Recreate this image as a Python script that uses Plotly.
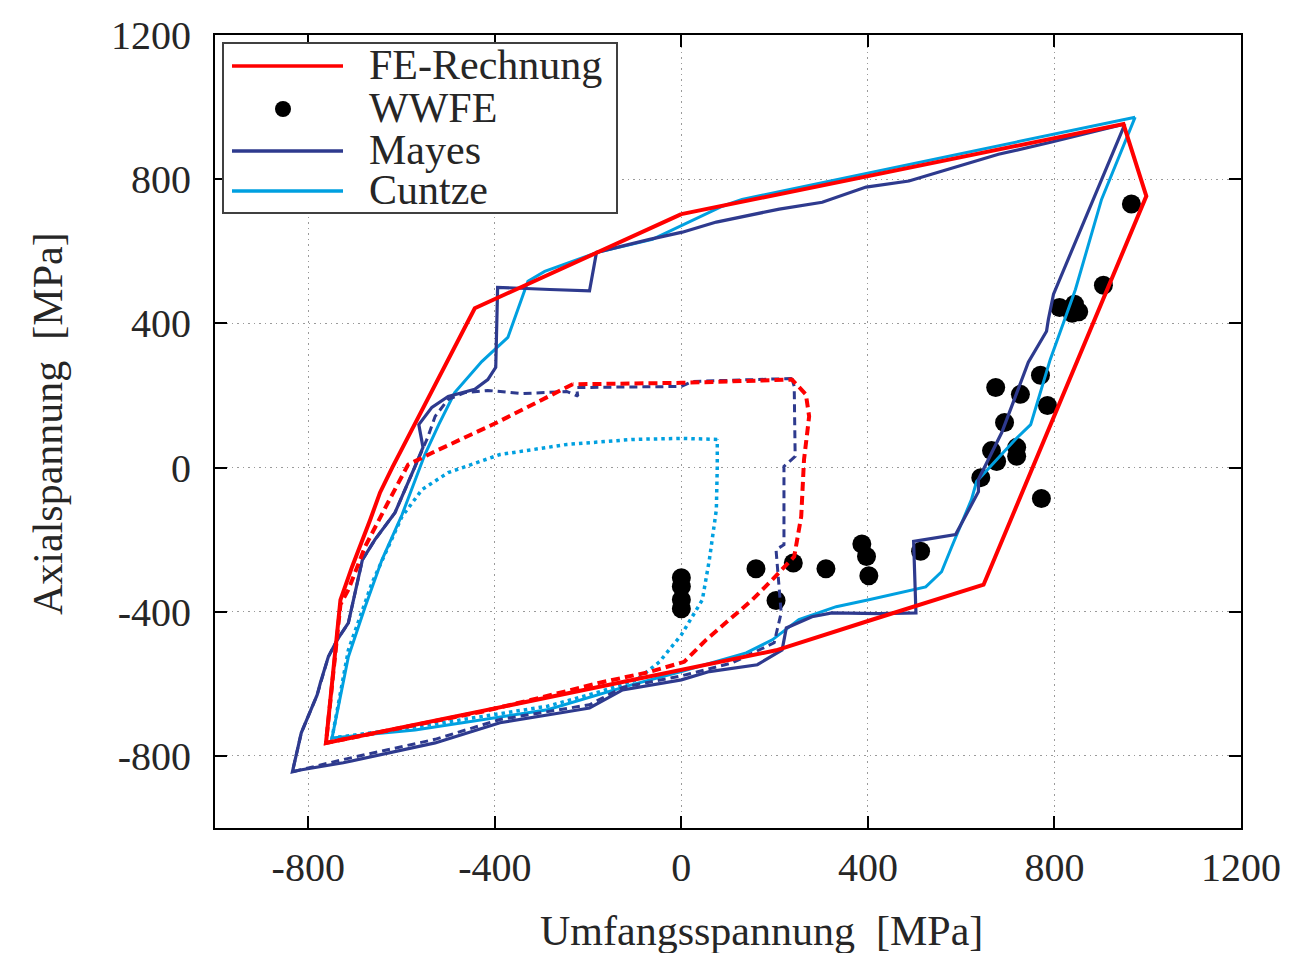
import plotly.graph_objects as go

# ---------------- data (MPa) ----------------
fe_x = [0, -443, -620, -646, -667, -706, -731, -762, -261, 0, 203, 402, 648, 997, 948, 0]
fe_y = [703, 442, 0, -69, -144, -275, -367, -764, -631, -561, -507, -425, -325, 753, 953, 703]

fe_d_x = [-233, -320, -400, -528, -586, -629, -678, -714, -731, -762, -430, -304, -175, -68, 6, 53,
          109, 152, 195, 242, 257, 263, 274, 267, 237, 0, -233]
fe_d_y = [231, 175, 122, 45, 8, -97, -219, -339, -380, -764, -678, -639, -597, -567, -539, -478,
          -414, -367, -311, -247, -136, 22, 142, 203, 244, 235, 231]

wwfe_x = [0, 0, 0, 0, 160, 240, 203, 310, 387, 397, 402, 513, 772, 642, 665, 676, 719, 719,
          693, 674, 727, 770, 785, 811, 843, 852, 838, 905, 965]
wwfe_y = [-306, -330, -367, -392, -281, -265, -369, -281, -212, -247, -300, -232, -86, -28, 47, 17,
          56, 31, 125, 222, 203, 256, 172, 444, 453, 432, 428, 506, 731]

mayes_x = [951, 794, 680, 573, 488, 396, 302, 210, 75, 2, -68, -182, -197, -282, -394, -398, -415,
           -443, -500, -535, -563, -554, -571, -614, -657, -684, -714, -738, -757, -774, -781, -815,
           -834, -817, -725, -528, -389, -261, -197, -126, 0, 60, 163, 216, 225, 280, 323, 424, 503,
           498, 588, 637, 637, 687, 744, 783, 787, 798, 951]
mayes_y = [953, 903, 869, 828, 795, 778, 736, 717, 681, 653, 633, 597, 490, 494, 500, 278, 244,
           217, 197, 167, 119, 56, 3, -125, -200, -256, -431, -478, -525, -597, -631, -736,
           -844, -839, -819, -764, -708, -681, -667, -617, -589, -566, -547, -506, -445, -414, -403, -405, -403,
           -205, -186, -67, -33, 97, 292, 378, 411, 481, 953]

mayes_d_x = [237, 242, 244, 220, 220, 203, 214, 199, 109, 0, -126, -197, -389, -528, -725, -834, -815,
             -781, -757, -738, -714, -684, -657, -614, -571, -545, -528, -500, -464, -415, -342, -287,
             -246, -222, -225, 0, 24, 237]
mayes_d_y = [247, 225, 31, 3, -214, -228, -403, -486, -542, -578, -610, -658, -699, -754, -810, -844, -736,
             -631, -525, -478, -431, -256, -200, -125, 3, 80, 142, 189, 208, 214, 205, 208,
             211, 198, 222, 225, 239, 247]

cuntze_x = [973, 466, 130, 88, 0, -62, -180, -293, -329, -353, -372, -428, -486, -520, -550, -599, -642,
            -678, -714, -749, -571, -287, -175, -107, 0, 139, 195, 252, 332, 402, 524, 558, 580, 622,
            633, 716, 749, 791, 845, 901, 973]
cuntze_y = [972, 836, 744, 725, 670, 633, 597, 544, 517, 431, 361, 294, 208, 120, 36, -131, -256,
            -386, -525, -750, -728, -672, -630, -603, -566, -514, -478, -422, -386, -367, -331, -289, -219, -89,
            -39, 78, 119, 300, 494, 744, 972]

cuntze_d_x = [77, 0, -105, -246, -389, -500, -556, -599, -663, -714, -749, -571, -287, -175, -96, -47,
              0, 45, 60, 75, 77, 77]
cuntze_d_y = [78, 81, 78, 64, 36, -14, -61, -136, -319, -506, -750, -720, -662, -622, -589, -539,
              -464, -367, -256, -117, 3, 78]

tick_vals = [-800, -400, 0, 400, 800, 1200]
tick_text = ["-800", "-400", "0", "400", "800", "1200"]
legend_names = ["FE-Rechnung", "WWFE", "Mayes", "Cuntze"]

RED = "#ff0000"
MAYES = "#2e3a8e"
CUNTZE = "#00a0e0"
FONT = "Liberation Serif"
TXT = "#262626"

fig = go.Figure()
fig.add_trace(go.Scatter(x=wwfe_x, y=wwfe_y, mode="markers", name="WWFE",
                         marker=dict(color="black", size=19, line=dict(width=0))))
fig.add_trace(go.Scatter(x=cuntze_d_x, y=cuntze_d_y, mode="lines", name="Cuntze (dotted)",
                         line=dict(color=CUNTZE, width=3.5, dash="3.5px,4px")))
fig.add_trace(go.Scatter(x=cuntze_x, y=cuntze_y, mode="lines", name="Cuntze",
                         line=dict(color=CUNTZE, width=3)))
fig.add_trace(go.Scatter(x=mayes_d_x, y=mayes_d_y, mode="lines", name="Mayes (dashed)",
                         line=dict(color=MAYES, width=3, dash="8px,5px")))
fig.add_trace(go.Scatter(x=mayes_x, y=mayes_y, mode="lines", name="Mayes",
                         line=dict(color=MAYES, width=3.2)))
fig.add_trace(go.Scatter(x=fe_d_x, y=fe_d_y, mode="lines", name="FE-Rechnung (dashed)",
                         line=dict(color=RED, width=4, dash="9px,5px")))
fig.add_trace(go.Scatter(x=fe_x, y=fe_y, mode="lines", name="FE-Rechnung",
                         line=dict(color=RED, width=4)))

axis_common = dict(
    range=[-1000, 1200], tickvals=tick_vals, ticktext=tick_text,
    showline=True, linecolor="black", linewidth=2, mirror="ticks",
    ticks="inside", ticklen=12, tickwidth=2, tickcolor="black",
    showgrid=True, gridcolor="#9a9a9a", gridwidth=1, griddash="1.5px,4px",
    zeroline=False, tickfont=dict(family=FONT, size=40, color=TXT),
)
fig.update_xaxes(**axis_common, ticklabelstandoff=3)
fig.update_yaxes(**axis_common, ticklabelstandoff=14)

W, H = 1316, 953

# plot area in page pixels
L, R_, T, B = 215, 1241, 35, 828
def px(xp):
    return (xp - L) / (R_ - L)
def py(yp):
    return (B - yp) / (B - T)

shapes = [dict(type="rect", xref="paper", yref="paper", x0=px(223), x1=px(617), y0=py(213), y1=py(43),
               line=dict(color="#404040", width=2), fillcolor="white", layer="above")]
rows = [66, 109, 151, 191]
styles = [RED, None, MAYES, CUNTZE]
annotations = []
for name, yrow, col in zip(legend_names, rows, styles):
    if col is None:
        shapes.append(dict(type="circle", xref="paper", yref="paper", xsizemode="pixel", ysizemode="pixel",
                           xanchor=px(283), yanchor=py(yrow), x0=-8, x1=8, y0=-8, y1=8,
                           fillcolor="black", line=dict(width=0), layer="above"))
    else:
        shapes.append(dict(type="line", xref="paper", yref="paper", x0=px(232), x1=px(343),
                           y0=py(yrow), y1=py(yrow), line=dict(color=col, width=3.5), layer="above"))
    annotations.append(dict(text=name, xref="paper", yref="paper", x=px(367), y=py(yrow - 1),
                            xanchor="left", yanchor="middle", showarrow=False,
                            font=dict(family=FONT, size=42, color=TXT)))

annotations.append(dict(text="Umfangsspannung\u00a0\u00a0[MPa]", xref="paper", yref="paper",
                        x=px(761), y=py(931), xanchor="center", yanchor="middle", showarrow=False,
                        font=dict(family=FONT, size=42, color=TXT)))
annotations.append(dict(text="Axialspannung\u00a0\u00a0[MPa]", xref="paper", yref="paper",
                        x=px(48), y=py(424), xanchor="center", yanchor="middle", showarrow=False,
                        textangle=-90, font=dict(family=FONT, size=42, color=TXT)))

fig.update_layout(
    width=W, height=H,
    margin=dict(l=L, r=W - R_, t=T, b=H - B),
    paper_bgcolor="white", plot_bgcolor="white",
    showlegend=False, shapes=shapes, annotations=annotations,
)

fig.write_html("out.html", config={"displayModeBar": False},
               post_script="document.body.style.margin='0px';document.body.style.overflow='hidden';")
